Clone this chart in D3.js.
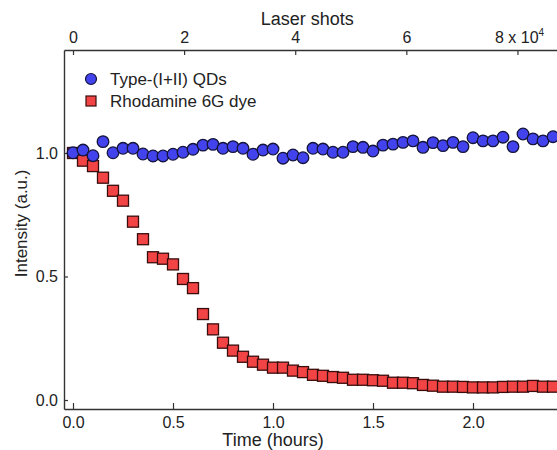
<!DOCTYPE html>
<html>
<head>
<meta charset="utf-8">
<script src="https://cdn.jsdelivr.net/npm/d3@7"></script>
<style>
  html, body { margin: 0; padding: 0; background: #fff; }
  svg { display: block; font-family: "Liberation Sans", Arial, sans-serif; }
</style>
</head>
<body>
<svg id="chart" width="557" height="450"></svg>
<script>
// Sampling times (hours), one measurement every 3 minutes
const timeHours = [
  0.00, 0.05, 0.10, 0.15, 0.20, 0.25, 0.30, 0.35, 0.40, 0.45,
  0.50, 0.55, 0.60, 0.65, 0.70, 0.75, 0.80, 0.85, 0.90, 0.95,
  1.00, 1.05, 1.10, 1.15, 1.20, 1.25, 1.30, 1.35, 1.40, 1.45,
  1.50, 1.55, 1.60, 1.65, 1.70, 1.75, 1.80, 1.85, 1.90, 1.95,
  2.00, 2.05, 2.10, 2.15, 2.20, 2.25, 2.30, 2.35, 2.40
];

// Normalised emission intensity of the type-(I+II) quantum dots
const qdIntensity = [
  1.001, 1.012, 0.989, 1.046, 1.001, 1.019, 1.019, 0.996, 0.988, 0.988,
  0.995, 1.003, 1.015, 1.032, 1.035, 1.019, 1.026, 1.019, 0.995, 1.012,
  1.016, 0.979, 0.992, 0.981, 1.019, 1.016, 1.003, 1.003, 1.026, 1.023,
  1.008, 1.032, 1.036, 1.043, 1.049, 1.023, 1.042, 1.030, 1.043, 1.026,
  1.062, 1.049, 1.049, 1.064, 1.026, 1.077, 1.057, 1.049, 1.066
];

// Normalised emission intensity of Rhodamine 6G
const dyeIntensity = [
  1.000, 0.969, 0.947, 0.900, 0.847, 0.807, 0.722, 0.651, 0.578, 0.572,
  0.549, 0.490, 0.453, 0.348, 0.286, 0.232, 0.200, 0.175, 0.155, 0.143,
  0.131, 0.131, 0.119, 0.113, 0.102, 0.098, 0.093, 0.090, 0.082, 0.082,
  0.080, 0.078, 0.070, 0.070, 0.068, 0.061, 0.058, 0.054, 0.054, 0.053,
  0.051, 0.051, 0.051, 0.053, 0.054, 0.054, 0.057, 0.054, 0.054
];

const timeTicks = [0, 0.5, 1.0, 1.5, 2.0];
const shotTicks = [0, 20000, 40000, 60000, 80000];
const intensityTicks = [0, 0.5, 1.0];
const shotsPerHour = 36000; // 10 Hz repetition rate

const seriesNames = ["Type-(I+II) QDs", "Rhodamine 6G dye"];
const seriesFill = ["#4343ee", "#f24444"];
const seriesStroke = ["#14143c", "#3a0d0d"];
const textColor = "#222";
const axisColor = "#333";

const svg = d3.select("#chart");

const plotLeft = 64, plotTop = 50, plotBottom = 409, plotRight = 620;

const x = d3.scaleLinear().domain([-0.045, 2.735]).range([plotLeft, plotRight]);
const xShots = d3.scaleLinear()
  .domain(x.domain().map(d => d * shotsPerHour))
  .range([plotLeft, plotRight]);
const y = d3.scaleLinear().domain([-0.0364, 1.4170]).range([plotBottom, plotTop]);

function styleAxis(g) {
  g.attr("font-family", null).attr("font-size", null);
  g.select(".domain").attr("stroke", axisColor).attr("stroke-width", 1.4);
  g.selectAll(".tick line").attr("stroke", axisColor).attr("stroke-width", 1.2);
  g.selectAll(".tick text").attr("fill", textColor).style("font-size", "16px");
}

// Bottom axis: time
svg.append("g")
  .attr("transform", `translate(0,${plotBottom})`)
  .call(d3.axisBottom(x).tickValues(timeTicks).tickFormat(d3.format(".1f"))
    .tickSizeInner(-6).tickSizeOuter(0).tickPadding(8))
  .call(styleAxis);

// Top axis: laser shots
const topAxis = svg.append("g")
  .attr("transform", `translate(0,${plotTop})`)
  .call(d3.axisTop(xShots).tickValues(shotTicks)
    .tickFormat(d => d === 80000 ? "" : String(d / 10000))
    .tickSizeInner(-5).tickSizeOuter(0).tickPadding(7))
  .call(styleAxis);

// Last top label carries the exponent
topAxis.selectAll(".tick").filter(d => d === 80000).select("text")
  .call(t => {
    t.append("tspan").text("8 x 10");
    t.append("tspan").text("4").attr("dy", "-0.7em").style("font-size", "10px");
  })
  .attr("dx", "0.1em");

// Left axis: intensity
svg.append("g")
  .attr("transform", `translate(${plotLeft},0)`)
  .call(d3.axisLeft(y).tickValues(intensityTicks).tickFormat(d3.format(".1f"))
    .tickSizeInner(-4).tickSizeOuter(0).tickPadding(6))
  .call(styleAxis);

// Axis titles
svg.append("text")
  .attr("x", x(1.0)).attr("y", 446)
  .attr("text-anchor", "middle").attr("fill", textColor)
  .style("font-size", "18px").text("Time (hours)");

svg.append("text")
  .attr("x", xShots(40000) + 12).attr("y", 25)
  .attr("text-anchor", "middle").attr("fill", textColor)
  .style("font-size", "18px").text("Laser shots");

svg.append("text")
  .attr("transform", `translate(27,${y(0.715)}) rotate(-90)`)
  .attr("text-anchor", "middle").attr("fill", textColor)
  .style("font-size", "17px").text("Intensity (a.u.)");

// Data markers
const plot = svg.append("g");
const sq = 11;

plot.selectAll("rect.dye")
  .data(timeHours.map((t, i) => [t, dyeIntensity[i]]))
  .join("rect")
  .attr("class", "dye")
  .attr("x", d => x(d[0]) - sq / 2)
  .attr("y", d => y(d[1]) - sq / 2)
  .attr("width", sq).attr("height", sq)
  .attr("fill", seriesFill[1]).attr("stroke", seriesStroke[1]).attr("stroke-width", 1.3);

plot.selectAll("circle.qd")
  .data(timeHours.map((t, i) => [t, qdIntensity[i]]))
  .join("circle")
  .attr("class", "qd")
  .attr("cx", d => x(d[0]))
  .attr("cy", d => y(d[1]))
  .attr("r", 5.8)
  .attr("fill", seriesFill[0]).attr("stroke", seriesStroke[0]).attr("stroke-width", 1.3);

// Legend
const legend = svg.append("g").attr("transform", "translate(91,79)");
legend.append("circle").attr("cx", 0).attr("cy", 0).attr("r", 5.5)
  .attr("fill", seriesFill[0]).attr("stroke", seriesStroke[0]).attr("stroke-width", 1.2);
legend.append("rect").attr("x", -5).attr("y", 17).attr("width", 10).attr("height", 10)
  .attr("fill", seriesFill[1]).attr("stroke", seriesStroke[1]).attr("stroke-width", 1.2);
legend.selectAll("text.label")
  .data(seriesNames)
  .join("text")
  .attr("class", "label")
  .attr("x", 19).attr("y", (d, i) => 6 + i * 22)
  .attr("fill", textColor).style("font-size", "17px")
  .text(d => d);
</script>
</body>
</html>
